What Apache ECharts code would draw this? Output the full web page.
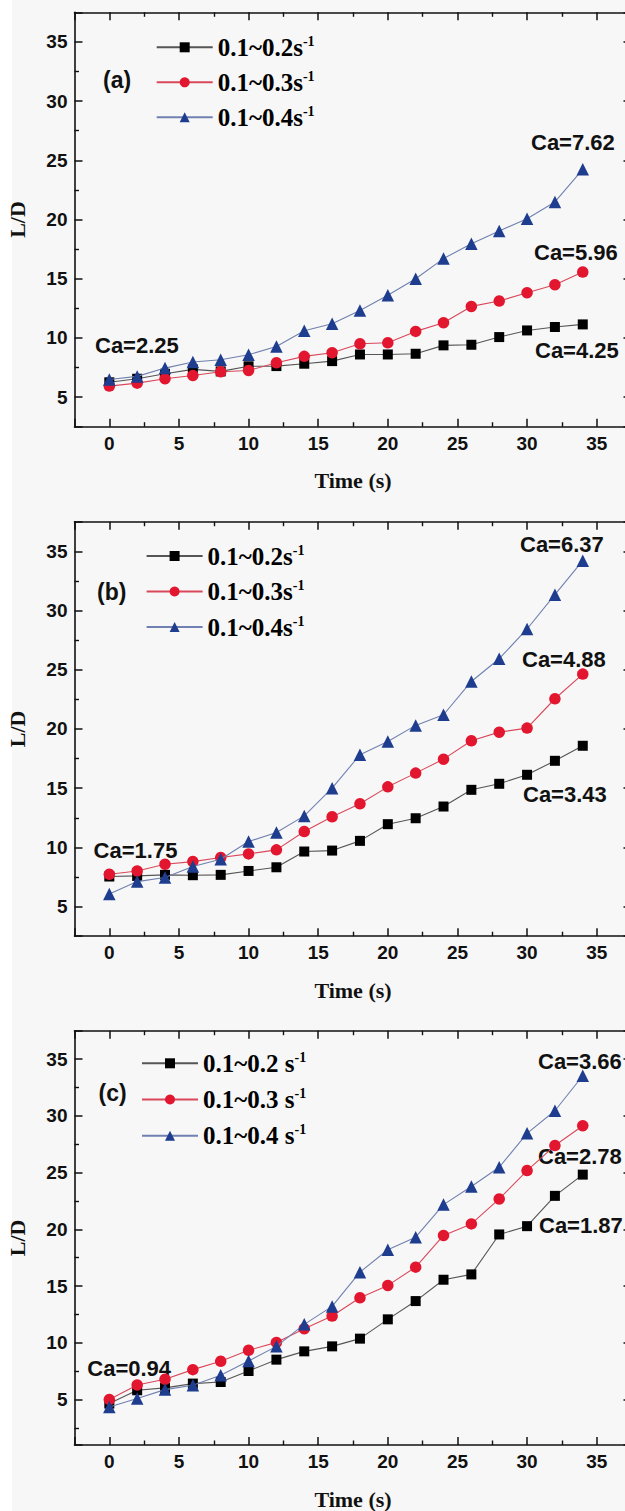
<!DOCTYPE html>
<html>
<head>
<meta charset="utf-8">
<script src="https://cdn.jsdelivr.net/npm/echarts@6/dist/echarts.min.js"></script>
<style>
html,body{margin:0;padding:0;background:#f7f7f7;}
#chart{width:625px;height:1511px;}
</style>
</head>
<body>
<div id="chart"></div>
<script>
// ---------- data ----------
const times = [0, 2, 4, 6, 8, 10, 12, 14, 16, 18, 20, 22, 24, 26, 28, 30, 32, 34];

const aRate02 = [6.25, 6.55, 6.97, 7.34, 7.17, 7.6, 7.62, 7.82, 8.04, 8.6, 8.6, 8.66, 9.37, 9.42, 10.07, 10.63, 10.92, 11.14];
const aRate03 = [5.93, 6.18, 6.55, 6.83, 7.14, 7.25, 7.9, 8.44, 8.75, 9.5, 9.59, 10.55, 11.28, 12.66, 13.11, 13.82, 14.49, 15.56];
const aRate04 = [6.49, 6.75, 7.45, 7.96, 8.15, 8.58, 9.28, 10.6, 11.2, 12.32, 13.6, 15.0, 16.7, 17.96, 19.03, 20.07, 21.48, 24.24];

const bRate02 = [7.54, 7.59, 7.68, 7.65, 7.68, 8.01, 8.32, 9.65, 9.73, 10.55, 11.96, 12.46, 13.45, 14.86, 15.37, 16.13, 17.31, 18.58];
const bRate03 = [7.73, 8.01, 8.58, 8.8, 9.14, 9.45, 9.79, 11.34, 12.58, 13.68, 15.11, 16.27, 17.45, 19.0, 19.73, 20.07, 22.55, 24.63];
const bRate04 = [6.07, 7.11, 7.45, 8.38, 9.0, 10.49, 11.25, 12.66, 15.0, 17.82, 18.94, 20.3, 21.2, 24.01, 25.93, 28.44, 31.34, 34.21];

const cRate02 = [4.65, 5.82, 6.03, 6.41, 6.55, 7.52, 8.52, 9.25, 9.69, 10.37, 12.07, 13.68, 15.56, 16.03, 19.55, 20.28, 22.95, 24.82];
const cRate03 = [5.0, 6.29, 6.79, 7.64, 8.37, 9.34, 10.04, 11.25, 12.36, 13.97, 15.06, 16.67, 19.46, 20.48, 22.68, 25.18, 27.38, 29.13];
const cRate04 = [4.35, 5.09, 5.88, 6.26, 7.14, 8.4, 9.69, 11.63, 13.21, 16.23, 18.2, 19.31, 22.18, 23.77, 25.47, 28.46, 30.45, 33.53];

const legendNamesAB = ['0.1~0.2s', '0.1~0.3s', '0.1~0.4s'];
const legendNamesC = ['0.1~0.2 s', '0.1~0.3 s', '0.1~0.4 s'];
const legendSup = '-1';
const panelTags = ['(a)', '(b)', '(c)'];
const caLabels = [
  ['Ca=2.25', 'Ca=7.62', 'Ca=5.96', 'Ca=4.25'],
  ['Ca=1.75', 'Ca=6.37', 'Ca=4.88', 'Ca=3.43'],
  ['Ca=0.94', 'Ca=3.66', 'Ca=2.78', 'Ca=1.87']
];
const xTitle = 'Time (s)';
const yTitle = 'L/D';

// ---------- layout / style ----------
const panels = [
  { top: 12.3, height: 414.4, yMin: 2.5, series: [aRate02, aRate03, aRate04], names: legendNamesAB,
    legend: { left: 155.7, top: 34.3, gap: 9.5 },
    tag: [103, 81.7],
    ca: [[95, 346.7], [531, 144], [534, 254.3], [535, 352]] },
  { top: 521.7, height: 414.5, yMin: 2.5, series: [bRate02, bRate03, bRate04], names: legendNamesAB,
    legend: { left: 145.6, top: 543, gap: 10 },
    tag: [97, 593.8],
    ca: [[93.6, 851.7], [520, 546], [522, 660.7], [523, 796]] },
  { top: 1030.7, height: 414.3, yMin: 1, series: [cRate02, cRate03, cRate04], names: legendNamesC,
    legend: { left: 141, top: 1050.3, gap: 10.7 },
    tag: [98.5, 1094.5],
    ca: [[87.3, 1369.5], [538, 1062.5], [538, 1158.3], [539, 1226.7]] }
];
const GRID_LEFT = 74.5, GRID_WIDTH = 557;
const AXIS_COLOR = '#111';
const styles = [
  { symbol: 'rect', size: 10, fill: '#000000', line: '#555555' },
  { symbol: 'circle', size: 11.5, fill: '#e2162e', line: '#d9485a' },
  { symbol: 'triangle', size: 12.5, fill: '#1e3d8f', line: '#7080b0' }
];
const tickFont = { fontFamily: 'Liberation Sans', fontWeight: 'bold', fontSize: 19, color: AXIS_COLOR };
const titleFont = { fontFamily: 'Liberation Serif', fontWeight: 'bold', fontSize: 22, color: AXIS_COLOR };

function labelFmt(v) { return (Math.abs(v % 5) < 1e-9) ? String(v) : ''; }

function axisCommon(extra) {
  return Object.assign({
    type: 'value',
    axisLine: { show: true, onZero: false, lineStyle: { color: AXIS_COLOR, width: 1.6 } },
    axisTick: { show: true, inside: true, length: 8, lineStyle: { color: AXIS_COLOR, width: 1.5 } },
    minorTick: { show: true, splitNumber: 2, length: 4.5, lineStyle: { color: AXIS_COLOR, width: 1.4 } },
    splitLine: { show: false },
    minorSplitLine: { show: false }
  }, extra);
}

const grids = [], xAxes = [], yAxes = [], series = [], legends = [], graphics = [];

graphics.push({ type: 'rect', shape: { x: 0, y: 0, width: 12, height: 1511 }, style: { fill: '#ffffff' }, z: -10, silent: true });

panels.forEach((p, i) => {
  grids.push({ left: GRID_LEFT, top: p.top, width: GRID_WIDTH, height: p.height, containLabel: false, outerBoundsMode: 'none' });
  xAxes.push(axisCommon({
    gridIndex: i, position: 'bottom', min: -2.5, max: 37.5, splitNumber: 8,
    axisLabel: Object.assign({ show: true, margin: 7, formatter: labelFmt, showMinLabel: true, showMaxLabel: true }, tickFont),
    name: xTitle, nameLocation: 'middle', nameGap: 43, nameTextStyle: titleFont
  }));
  xAxes.push(axisCommon({
    gridIndex: i, position: 'top', min: -2.5, max: 37.5, splitNumber: 8,
    axisLabel: { show: false }
  }));
  yAxes.push(axisCommon({
    gridIndex: i, position: 'left', min: p.yMin, max: 37.5, splitNumber: 7,
    axisLabel: Object.assign({ show: true, margin: 7, formatter: labelFmt }, tickFont),
    name: yTitle, nameLocation: 'middle', nameRotate: 90, nameGap: 46, nameTextStyle: titleFont
  }));
  yAxes.push(axisCommon({
    gridIndex: i, position: 'right', min: p.yMin, max: 37.5, splitNumber: 7,
    axisLabel: { show: false }
  }));

  p.series.forEach((vals, k) => {
    const st = styles[k];
    series.push({
      type: 'line',
      name: p.names[k],
      xAxisIndex: 2 * i, yAxisIndex: 2 * i,
      data: times.map((t, j) => [t, vals[j]]),
      symbol: st.symbol, symbolSize: st.size, showAllSymbol: true,
      itemStyle: { color: st.fill },
      lineStyle: { color: st.line, width: 1.1 },
      emphasis: { disabled: true },
      animation: false, z: 2 + k
    });
  });

  legends.push({
    show: true, orient: 'vertical', left: p.legend.left, top: p.legend.top, padding: 0,
    itemGap: p.legend.gap, itemWidth: 56, itemHeight: 12.5, selectedMode: false,
    data: p.names.slice(),
    formatter: function (name) { return '{b|' + name + '}{s|' + legendSup + '}'; },
    textStyle: {
      color: '#000',
      rich: {
        b: { fontFamily: 'Liberation Serif', fontWeight: 'bold', fontSize: 25, lineHeight: 26, color: '#000' },
        s: { fontFamily: 'Liberation Serif', fontWeight: 'bold', fontSize: 14, lineHeight: 12, verticalAlign: 'top', color: '#000' }
      }
    }
  });

  graphics.push({
    type: 'text', left: p.tag[0], top: p.tag[1] - 13, silent: true,
    style: { text: panelTags[i], fontFamily: 'Liberation Sans', fontWeight: 'bold', fontSize: 23, fill: '#111' }
  });
  caLabels[i].forEach((txt, m) => {
    graphics.push({
      type: 'text', left: p.ca[m][0], top: p.ca[m][1] - 12.5, silent: true,
      style: { text: txt, fontFamily: 'Liberation Sans', fontWeight: 'bold', fontSize: 22, fill: '#111' }
    });
  });
});

const chart = echarts.init(document.getElementById('chart'), null, { renderer: 'svg', width: 625, height: 1511 });
chart.setOption({
  backgroundColor: '#f7f7f7',
  animation: false,
  grid: grids,
  xAxis: xAxes,
  yAxis: yAxes,
  legend: legends,
  series: series,
  graphic: graphics
});
</script>
</body>
</html>
